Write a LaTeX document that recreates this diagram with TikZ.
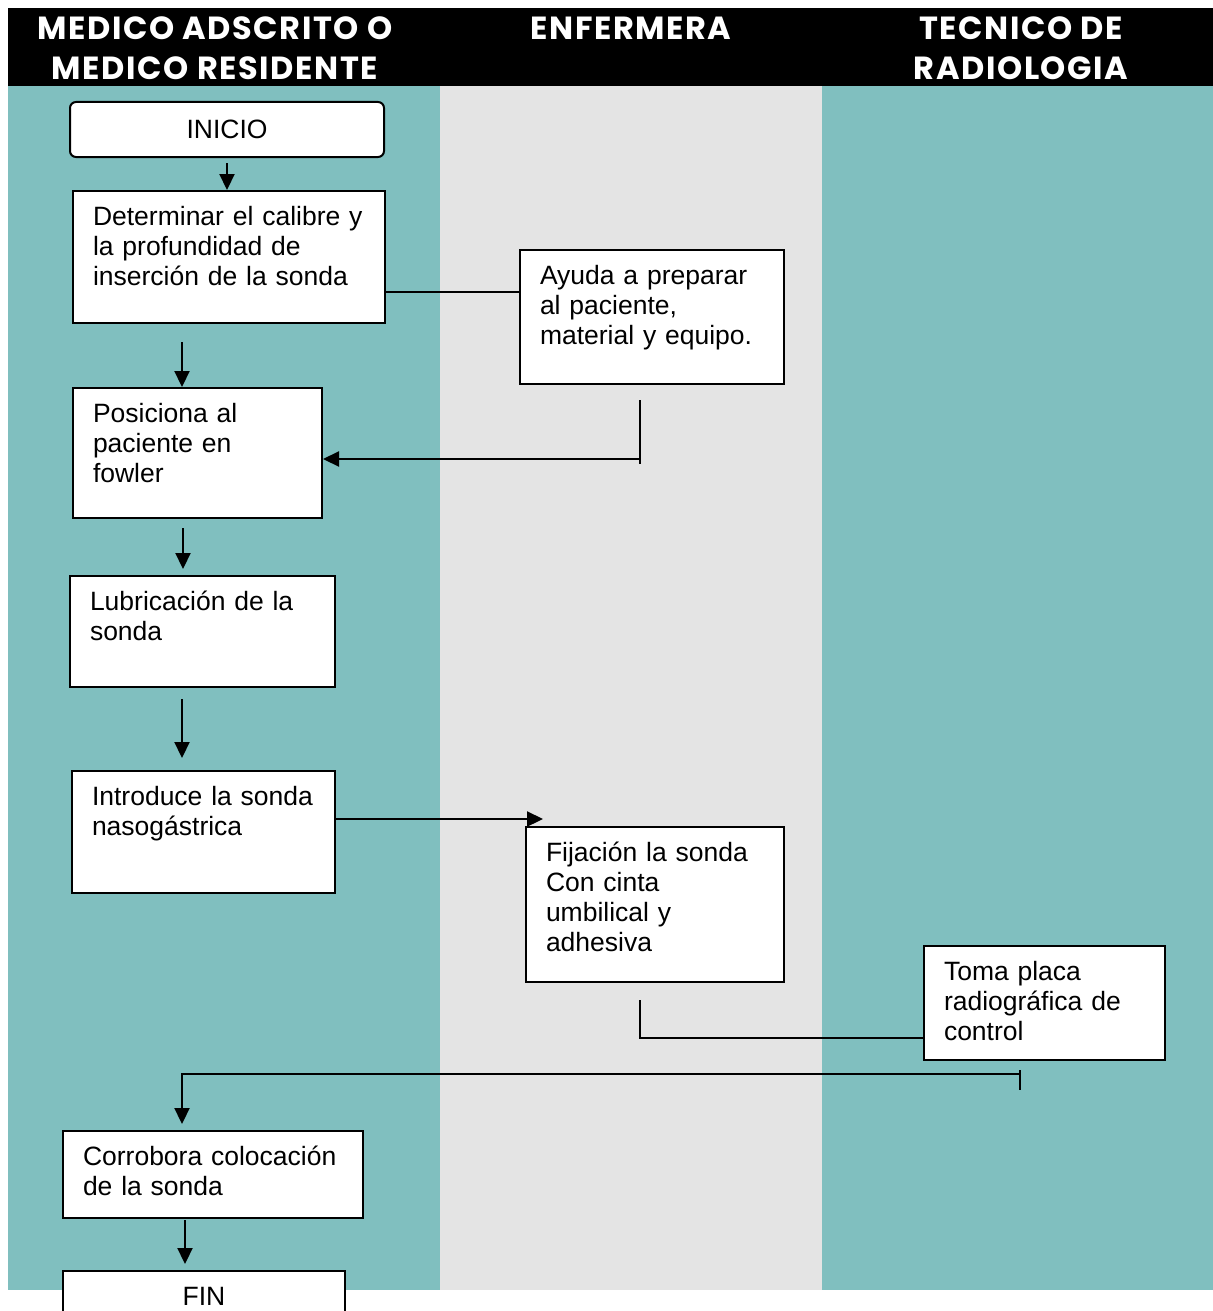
\documentclass[tikz,border=0pt]{standalone}
\usepackage{fontspec}
\setmainfont{Liberation Sans}
\newfontfamily\cabecera{Poppins}[LetterSpace=5]
\usetikzlibrary{arrows.meta,calc}
\definecolor{carril}{RGB}{128,191,191}
\definecolor{centro}{RGB}{228,228,228}

\begin{document}
\begin{tikzpicture}[
  x=0.5pt, y=-0.5pt,
  font=\fontsize{13.25}{15}\selectfont,
  paso/.style={draw, line width=1pt, fill=white, anchor=north west,
               align=left, inner xsep=10pt, inner ysep=7pt,
               text height=10pt, text depth=#1},
  inicio/.style={draw, line width=1pt, fill=white, rounded corners=3pt,
                 minimum width=157pt, minimum height=27.5pt},
  titulo/.style={text=white, align=center,
                 font=\cabecera\bfseries\fontsize{16}{20}\selectfont},
  flecha/.style={-{Triangle[length=8pt,width=7.5pt]}, line width=1.1pt},
  linea/.style={line width=1.1pt}]
\useasboundingbox (0,0) rectangle (1213,1311);
\clip (0,0) rectangle (1213,1311);
\fill[white] (0,0) rectangle (1213,1311);
\fill[carril] (8,86) rectangle (440,1290);
\fill[centro] (440,86) rectangle (822,1290);
\fill[carril] (822,86) rectangle (1213,1290);
\fill[black] (8,8) rectangle (1213,86);
\node[titulo] (med) at (215,48) {MEDICO ADSCRITO O\\MEDICO RESIDENTE};
\node[titulo] (enf) at (631,28) {ENFERMERA};
\node[titulo] (tec) at (1021,48) {TECNICO DE\\RADIOLOGIA};
\node[inicio] (ini) at (227,129.5) {INICIO};
\node[paso=42pt, text width=136pt] (det) at (72,190)
  {Determinar el calibre y\\la profundidad de\\inserción de la sonda};
\node[paso=43pt, text width=112pt] (ayu) at (519,249)
  {Ayuda a preparar\\al paciente,\\material y equipo.};
\node[paso=41pt, text width=104.5pt] (pos) at (72,387)
  {Posiciona al\\paciente en\\fowler};
\node[paso=31.5pt, text width=112.5pt] (lub) at (69,575)
  {Lubricación de la\\sonda};
\node[paso=37pt, text width=111.5pt] (int) at (71,770)
  {Introduce la sonda\\nasogástrica};
\node[paso=53.5pt, text width=109pt] (fij) at (525,826)
  {Fijación la sonda\\Con cinta\\umbilical y\\adhesiva};
\node[paso=33pt, text width=100.5pt] (toma) at (923,945)
  {Toma placa\\radiográfica de\\control};
\node[paso=19.5pt, text width=130pt] (corr) at (62,1130)
  {Corrobora colocación\\de la sonda};
\node[paso=30pt, text width=121pt, align=center] (fin) at (62,1270) {FIN};
\draw[flecha] ([yshift=-2.5pt]ini.south) -- (ini.south |- det.north);
\coordinate (a1) at ($(det.south west)+(110,18)$);
\draw[flecha] (a1) -- (a1 |- pos.north);
\coordinate (a2) at ($(det.north east)+(0,102)$);
\draw[linea] (a2) -- (a2 -| ayu.west);
\coordinate (a3) at ($(ayu.south west)+(121,15)$);
\coordinate (a4) at ($(ayu.south west)+(121,74)$);
\draw[linea] (a3) -- ($(a4)+(0,5)$);
\draw[flecha] (a4) -- (a4 -| pos.east);
\coordinate (a5) at ($(pos.south west)+(111,9)$);
\draw[flecha, shorten >=3pt] (a5) -- (a5 |- lub.north);
\coordinate (a6) at ($(lub.south west)+(113,11)$);
\draw[flecha, shorten >=6pt] (a6) -- (a6 |- int.north);
\coordinate (a7) at ($(int.north east)+(0,49)$);
\draw[flecha] (a7) -- ($(fij.north west)+(18,-7)$);
\coordinate (a8) at ($(fij.south west)+(115,17)$);
\coordinate (a9) at ($(toma.north west)+(0,93)$);
\draw[linea] (a8) -- (a8 |- a9) -- (a9);
\coordinate (a10) at ($(toma.south west)+(97,9)$);
\draw[linea] (a10) -- ++(0,20);
\coordinate (a11) at ($(toma.south west)+(97,13)$);
\coordinate (a12) at ($(corr.north west)+(120,0)$);
\draw[flecha, shorten >=3pt] (a11) -| (a12);
\coordinate (a13) at ($(corr.south west)+(123,1)$);
\draw[flecha, shorten >=3pt] (a13) -- (a13 |- fin.north);
\end{tikzpicture}
\end{document}
